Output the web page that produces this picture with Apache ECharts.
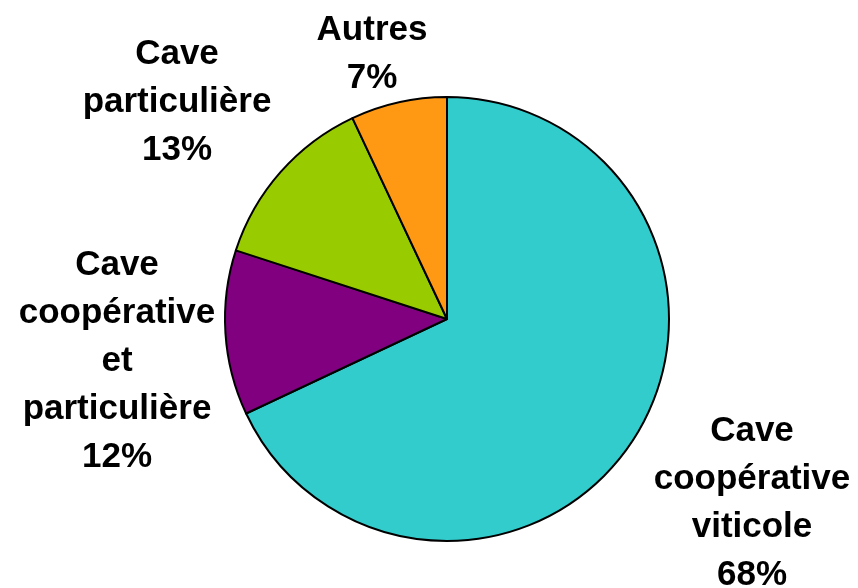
<!DOCTYPE html>
<html>
<head>
    <meta charset="utf-8">
    <title>Cave</title>
    <script src="https://cdn.jsdelivr.net/npm/echarts@6/dist/echarts.min.js"></script>
    <style>
        html, body { margin: 0; padding: 0; background: #fff; }
    </style>
</head>
<body>
<div id="main" style="width: 858px;height:588px;"></div>
<script>
    // données
    var categories = ['Cave coopérative viticole', 'Cave coopérative et particulière', 'Cave particulière', 'Autres'];
    var values = [68, 12, 13, 7];
    var colors = ['#33CCCC', '#800080', '#99CC00', '#FF9914'];

    // position des étiquettes (centre du bloc de texte)
    var labelX = [752, 117, 177, 372];
    var labelY = [503, 361, 102, 54];

    var myChart = echarts.init(document.getElementById('main'));

    var pieData = [];
    for (var i = 0; i < categories.length; i++) {
        pieData.push({
            name: categories[i],
            value: values[i],
            itemStyle: { color: colors[i] }
        });
    }

    var option = {
        animation: false,
        series: [
            {
                type: 'pie',
                center: [447, 319],
                radius: 222,
                startAngle: 90,
                clockwise: true,
                data: pieData,
                itemStyle: {
                    borderColor: '#000',
                    borderWidth: 2
                },
                label: {
                    show: true,
                    position: 'outside',
                    color: '#000',
                    fontFamily: 'Liberation Sans',
                    fontWeight: 'bold',
                    fontSize: 35,
                    lineHeight: 48,
                    align: 'center',
                    overflow: 'none',
                    formatter: function (p) {
                        return p.name.split(' ').join('\n') + '\n' + p.value + '%';
                    }
                },
                labelLine: { show: false },
                labelLayout: function (p) {
                    return {
                        x: labelX[p.dataIndex],
                        y: labelY[p.dataIndex],
                        align: 'center',
                        verticalAlign: 'middle'
                    };
                },
                emphasis: { disabled: true }
            }
        ]
    };
    myChart.setOption(option);
</script>
</body>
</html>
